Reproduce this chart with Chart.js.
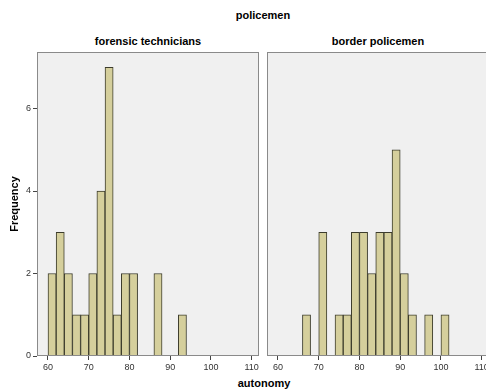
<!DOCTYPE html>
<html>
<head>
<meta charset="utf-8">
<script src="https://cdn.jsdelivr.net/npm/chart.js@4/dist/chart.umd.min.js"></script>
<style>
  html, body { margin: 0; padding: 0; background: #fff; overflow: hidden; }
  body { width: 486px; height: 392px; position: relative; font-family: "Liberation Sans", Arial, sans-serif; }
  .txt { position: absolute; font-weight: bold; color: #000; white-space: nowrap; transform: translateX(-50%); }
  canvas { position: absolute; top: 0; }
</style>
</head>
<body>
<div class="txt" style="left:263px; top:9px; font-size:11px;">policemen</div>
<div class="txt" style="left:148px; top:35px; font-size:11px;">forensic technicians</div>
<div class="txt" style="left:378px; top:35px; font-size:11px;">border policemen</div>
<div class="txt" style="left:264px; top:377px; font-size:11px;">autonomy</div>
<div style="position:absolute; left:0; top:0; width:262px; height:392px;"><canvas id="left"></canvas></div>
<div style="position:absolute; left:267px; top:0; width:230px; height:392px;"><canvas id="right"></canvas></div>
<script>
// bin start values (width 2)
const binStarts = [60, 62, 64, 66, 68, 70, 72, 74, 76, 78, 80, 82, 84, 86, 88, 90, 92, 94, 96, 98, 100];
const forensicCounts = [2, 3, 2, 1, 1, 2, 4, 7, 1, 2, 2, 0, 0, 2, 0, 0, 1, 0, 0, 0, 0];
const borderCounts = [0, 0, 0, 1, 0, 3, 0, 1, 1, 3, 3, 2, 3, 3, 5, 2, 1, 0, 1, 0, 1];
const xTicks = [60, 70, 80, 90, 100, 110];
const yTicks = [0, 2, 4, 6];

const binWidth = 2;

function toPoints(counts) {
  const points = [];
  counts.forEach((count, index) => {
    if (count > 0) {
      points.push({ x: binStarts[index] + binWidth / 2, y: count });
    }
  });
  return points;
}

const panelPlugin = {
  id: "panel",
  beforeDraw(chart) {
    const area = chart.chartArea;
    const ctx = chart.ctx;
    ctx.save();
    ctx.fillStyle = "#f0f0f0";
    ctx.fillRect(area.left, area.top, area.right - area.left, area.bottom - area.top);
    ctx.restore();
  },
  afterDraw(chart) {
    const area = chart.chartArea;
    const ctx = chart.ctx;
    ctx.save();
    ctx.strokeStyle = "#8a8a8a";
    ctx.lineWidth = 1;
    ctx.strokeRect(area.left + 0.5, area.top + 0.5, area.right - area.left - 1, area.bottom - area.top - 1);
    ctx.restore();
  },
};

function makeChart(canvasId, counts, showY, padRight) {
  return new Chart(document.getElementById(canvasId), {
    type: "bar",
    data: {
      datasets: [{
        data: toPoints(counts),
        backgroundColor: "#d5cf9c",
        borderColor: "#3c3c2c",
        borderWidth: 1,
        barPercentage: 1,
        categoryPercentage: 1,
      }],
    },
    options: {
      responsive: true,
      maintainAspectRatio: false,
      animation: false,
      layout: { padding: { top: 52, right: padRight, left: 0, bottom: 0 } },
      plugins: {
        legend: { display: false },
        tooltip: { enabled: false },
      },
      scales: {
        x: {
          type: "linear",
          offset: false,
          min: 57.3,
          max: 111.8,
          afterBuildTicks(scale) {
            scale.ticks = xTicks.map((value) => ({ value }));
          },
          afterFit(scale) {
            scale.height = 36;
          },
          grid: { offset: false, drawOnChartArea: false, drawTicks: true, tickLength: 4, color: "#444" },
          border: { display: false },
          ticks: { color: "#333", font: { family: "Liberation Sans, Arial", size: 9 }, padding: 2, maxRotation: 0 },
        },
        y: {
          display: showY,
          min: 0,
          max: 7.37,
          afterBuildTicks(scale) {
            scale.ticks = yTicks.map((value) => ({ value }));
          },
          afterFit(scale) {
            scale.width = showY ? 37 : 0;
          },
          grid: { drawOnChartArea: false, drawTicks: true, tickLength: 4, color: "#444" },
          border: { display: false },
          ticks: { color: "#333", font: { family: "Liberation Sans, Arial", size: 9 }, padding: 2 },
          title: {
            display: true,
            text: "Frequency",
            color: "#000",
            font: { family: "Liberation Sans, Arial", size: 11, weight: "bold" },
            padding: { top: 8, bottom: 0 },
          },
        },
      },
    },
    plugins: [panelPlugin],
  });
}

makeChart("left", forensicCounts, true, 3);
makeChart("right", borderCounts, false, 8);
</script>
</body>
</html>
